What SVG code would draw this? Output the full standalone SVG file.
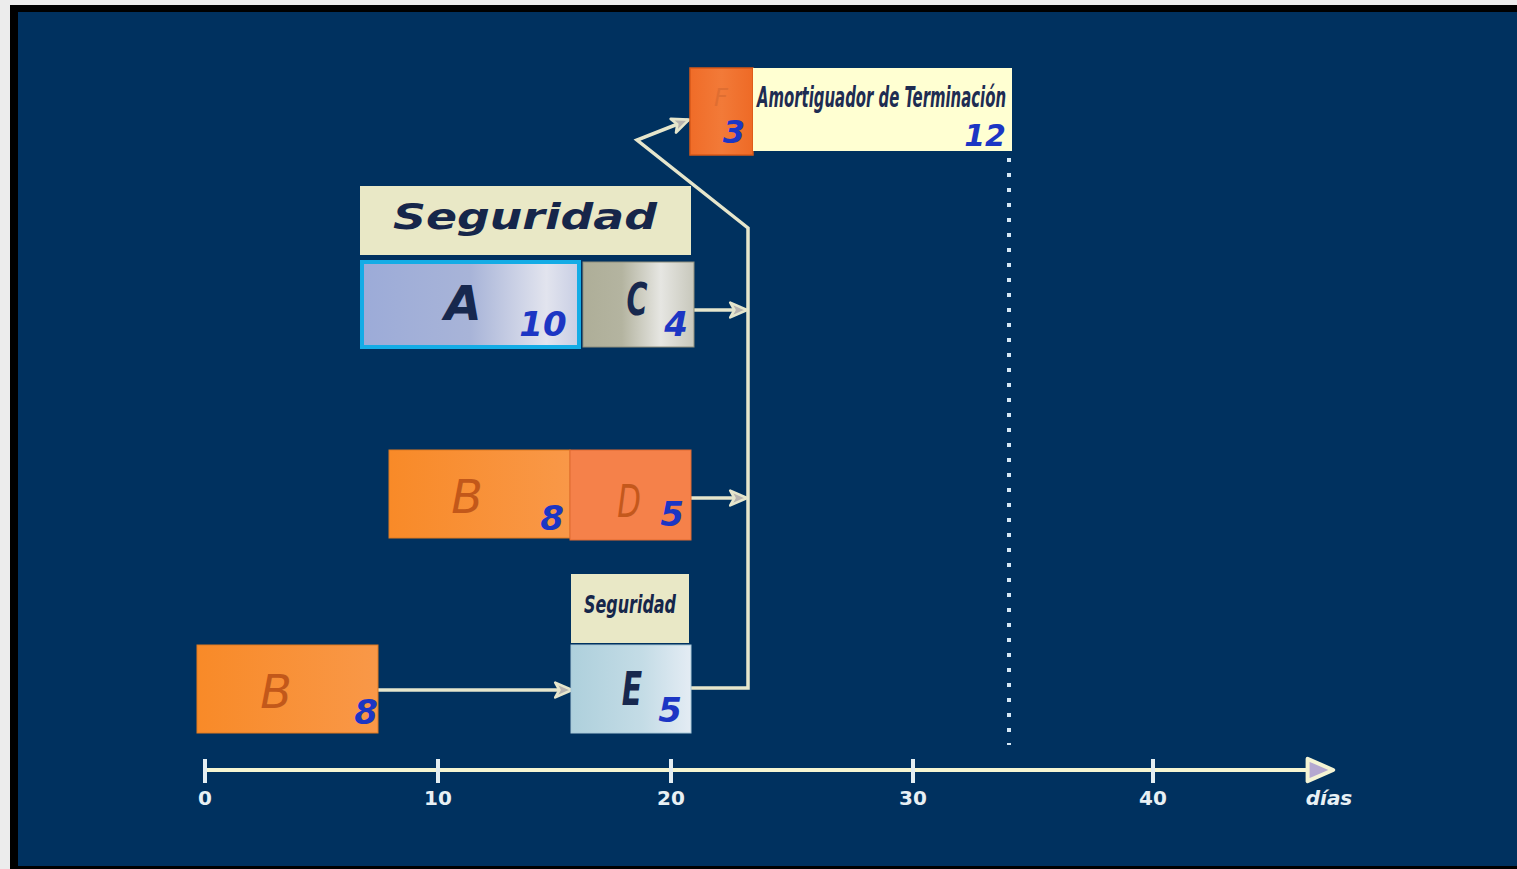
<svg xmlns="http://www.w3.org/2000/svg" width="1517" height="869" viewBox="0 0 1517 869">
<defs>
<style>
.num{font-family:"DejaVu Sans",sans-serif;font-style:italic;font-weight:bold;fill:#1c36c4}
.let{font-family:"DejaVu Sans",sans-serif;font-style:italic}
.conn{fill:none;stroke:#e6e6cc;stroke-width:3.5;stroke-linejoin:miter}
.axl{font-family:"DejaVu Sans",sans-serif;font-weight:bold;font-size:20px;fill:#e8f0f4}
.tick{stroke:#e4eef2;stroke-width:4}
.beige{fill:#e9e8c6}
</style>
<linearGradient id="gA" x1="0" y1="0" x2="1" y2="0">
<stop offset="0" stop-color="#9cabd8"/><stop offset="0.5" stop-color="#a8b4d8"/><stop offset="0.85" stop-color="#e2e4ee"/><stop offset="1" stop-color="#c8cee4"/>
</linearGradient>
<linearGradient id="gC" x1="0" y1="0" x2="1" y2="0">
<stop offset="0" stop-color="#aeae98"/><stop offset="0.35" stop-color="#b4b4a0"/><stop offset="0.7" stop-color="#e6e6e2"/><stop offset="1" stop-color="#c8c8bc"/>
</linearGradient>
<linearGradient id="gB" x1="0" y1="0" x2="1" y2="0">
<stop offset="0" stop-color="#f88a28"/><stop offset="1" stop-color="#f99848"/>
</linearGradient>
<linearGradient id="gE" x1="0" y1="0" x2="1" y2="0">
<stop offset="0" stop-color="#aed0dc"/><stop offset="0.6" stop-color="#c4dce6"/><stop offset="1" stop-color="#e4ecf4"/>
</linearGradient>
<linearGradient id="gF" x1="0" y1="0" x2="1" y2="0">
<stop offset="0" stop-color="#f06c28"/><stop offset="0.5" stop-color="#f27a38"/><stop offset="1" stop-color="#ee6a26"/>
</linearGradient>
<marker id="ah" viewBox="0 0 20 20" refX="17" refY="10" markerWidth="6" markerHeight="6" markerUnits="strokeWidth" orient="auto">
<path d="M2,3 L18,10 L2,17 L6,10 Z" fill="#b8b4b0" stroke="#e6e6cc" stroke-width="2.5" stroke-linejoin="round"/>
</marker>
<marker id="axh" viewBox="0 0 20 20" refX="16" refY="10" markerWidth="8" markerHeight="8" markerUnits="strokeWidth" orient="auto">
<path d="M2,3 L18,10 L2,17 Z" fill="#b4a8d0" stroke="#f4f4d4" stroke-width="2.5" stroke-linejoin="round"/>
</marker>
</defs>

<rect x="0" y="0" width="1517" height="869" fill="#ececec"/>
<rect x="10" y="5" width="1507" height="864" fill="#000"/>
<rect x="18" y="12" width="1499" height="854" fill="#00315f"/>

<g id="buffer-line">
<line x1="1009" y1="158" x2="1009" y2="745" stroke="#d6e8f6" stroke-width="4" stroke-dasharray="4 11"/>
</g>

<g id="connectors">
<path class="conn" d="M378,690 L571,690" marker-end="url(#ah)"/>
<path class="conn" d="M691,688 L748,688 L748,228 L637,140 L688,120" marker-end="url(#ah)"/>
<path class="conn" d="M694,310 L746,310" marker-end="url(#ah)"/>
<path class="conn" d="M691,498 L746,498" marker-end="url(#ah)"/>
</g>

<g id="node-F">
<rect x="690" y="68" width="63" height="87" fill="url(#gF)" stroke="#d85818" stroke-width="1.5"/>
<text x="714" y="106" class="let" font-size="24" fill="#d86a30" opacity="0.7">F</text>
<text x="734" y="143" class="num" font-size="32" text-anchor="middle">3</text>
</g>

<g id="node-amortiguador">
<rect x="753" y="68" width="259" height="83" fill="#ffffd2"/>
<text x="757" y="107" font-family="'DejaVu Sans Condensed','DejaVu Sans',sans-serif" font-size="28" font-weight="bold" fill="#1e2c52" textLength="249" lengthAdjust="spacingAndGlyphs" font-style="italic">Amortiguador de Terminación</text>
<text x="1006" y="146" class="num" font-size="30" text-anchor="end">12</text>
</g>

<g id="node-seguridad-top">
<rect x="360" y="186" width="331" height="69" class="beige"/>
<text x="525" y="229" font-family="'DejaVu Sans',sans-serif" font-style="italic" font-weight="bold" font-size="36" fill="#16264a" text-anchor="middle" textLength="264" lengthAdjust="spacingAndGlyphs">Seguridad</text>
</g>

<g id="node-A">
<rect x="362" y="262" width="217" height="85" fill="url(#gA)" stroke="#14ace6" stroke-width="4"/>
<text x="463" y="320" class="let" font-size="48" font-weight="bold" fill="#17284e" text-anchor="middle">A</text>
<text x="543" y="336" class="num" font-size="34" text-anchor="middle">10</text>
</g>

<g id="node-C">
<rect x="583" y="262" width="111" height="85" fill="url(#gC)" stroke="#8e8e7c" stroke-width="1"/>
<text x="637" y="315" class="let" font-size="44" font-weight="bold" fill="#17284e" text-anchor="middle" transform="translate(637,300) scale(0.65,1) translate(-637,-300)">C</text>
<text x="676" y="336" class="num" font-size="34" text-anchor="middle">4</text>
</g>

<g id="node-B-mid">
<rect x="389" y="450" width="181" height="88" fill="url(#gB)" stroke="#e07a20" stroke-width="1"/>
<text x="467" y="513" class="let" font-size="46" fill="#c2581a" text-anchor="middle">B</text>
<text x="552" y="530" class="num" font-size="34" text-anchor="middle">8</text>
</g>

<g id="node-D">
<rect x="570" y="450" width="121" height="90" fill="#f5814a" stroke="#e06a30" stroke-width="1"/>
<text x="629" y="517" class="let" font-size="44" fill="#c4581c" text-anchor="middle" transform="translate(629,500) scale(0.7,1) translate(-629,-500)">D</text>
<text x="672" y="526" class="num" font-size="34" text-anchor="middle">5</text>
</g>

<g id="node-seguridad-small">
<rect x="571" y="574" width="118" height="69" class="beige"/>
<text x="630" y="613" font-family="'DejaVu Sans Condensed','DejaVu Sans',sans-serif" font-style="italic" font-weight="bold" font-size="25" fill="#16264a" text-anchor="middle" textLength="92" lengthAdjust="spacingAndGlyphs">Seguridad</text>
</g>

<g id="node-E">
<rect x="571" y="645" width="120" height="88" fill="url(#gE)" stroke="#a8c8d8" stroke-width="1"/>
<text x="632" y="705" class="let" font-size="46" font-weight="bold" fill="#17284e" text-anchor="middle" transform="translate(632,688) scale(0.65,1) translate(-632,-688)">E</text>
<text x="670" y="722" class="num" font-size="34" text-anchor="middle">5</text>
</g>

<g id="node-B-bottom">
<rect x="197" y="645" width="181" height="88" fill="url(#gB)" stroke="#e07a20" stroke-width="1"/>
<text x="276" y="708" class="let" font-size="46" fill="#c2581a" text-anchor="middle">B</text>
<text x="366" y="724" class="num" font-size="34" text-anchor="middle">8</text>
</g>

<g id="axis">
<line x1="205" y1="770" x2="1330" y2="770" stroke="#f6f6d2" stroke-width="4" marker-end="url(#axh)"/>
<line class="tick" x1="205" y1="759" x2="205" y2="783"/>
<line class="tick" x1="438" y1="759" x2="438" y2="783"/>
<line class="tick" x1="671" y1="759" x2="671" y2="783"/>
<line class="tick" x1="913" y1="759" x2="913" y2="783"/>
<line class="tick" x1="1153" y1="759" x2="1153" y2="783"/>
<text class="axl" x="205" y="805" text-anchor="middle">0</text>
<text class="axl" x="438" y="805" text-anchor="middle">10</text>
<text class="axl" x="671" y="805" text-anchor="middle">20</text>
<text class="axl" x="913" y="805" text-anchor="middle">30</text>
<text class="axl" x="1153" y="805" text-anchor="middle">40</text>
<text class="axl" x="1329" y="805" text-anchor="middle" font-style="italic" font-weight="bold">días</text>
</g>
</svg>
